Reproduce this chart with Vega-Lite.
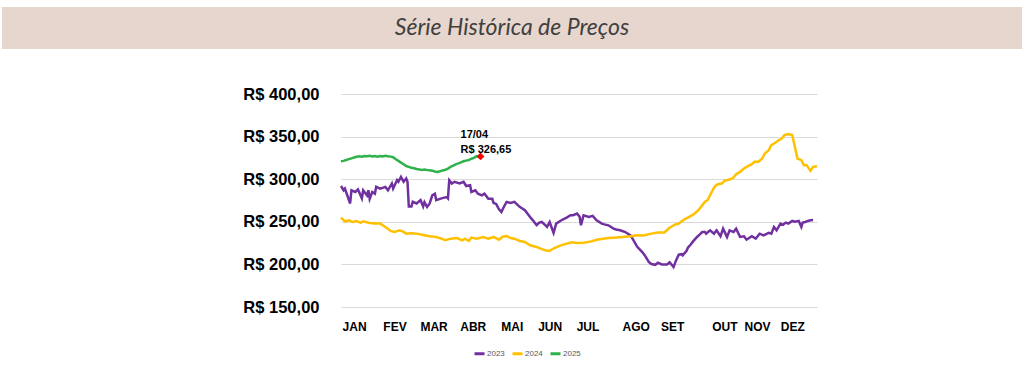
{
  "$schema": "https://vega.github.io/schema/vega-lite/v6.json",
  "padding": {"left": 2, "top": 7, "right": 2, "bottom": 0},
  "background": "#ffffff",
  "config": {"view": {"stroke": null}},
  "spacing": 45,
  "bounds": "flush",
  "datasets": {
    "destaque": [{"dia": 107, "preco": 326.65, "rotulo": ["17/04", "R$ 326,65"]}],
    "precos": [
      {"ano":"2023","dia":0,"preco":292},{"ano":"2023","dia":2,"preco":287},{"ano":"2023","dia":3,"preco":289},{"ano":"2023","dia":7,"preco":271.5},{"ano":"2023","dia":8,"preco":287},{"ano":"2023","dia":11,"preco":285},{"ano":"2023","dia":13,"preco":288},{"ano":"2023","dia":16,"preco":277.5},{"ano":"2023","dia":17,"preco":287},{"ano":"2023","dia":20,"preco":281},{"ano":"2023","dia":21,"preco":287},{"ano":"2023","dia":22,"preco":277},{"ano":"2023","dia":24,"preco":285},{"ano":"2023","dia":26,"preco":283},{"ano":"2023","dia":27,"preco":291},{"ano":"2023","dia":30,"preco":289},{"ano":"2023","dia":34,"preco":291},{"ano":"2023","dia":36,"preco":287},{"ano":"2023","dia":39,"preco":295},{"ano":"2023","dia":40,"preco":289},{"ano":"2023","dia":43,"preco":299},{"ano":"2023","dia":44,"preco":297},{"ano":"2023","dia":46,"preco":302.8},{"ano":"2023","dia":48,"preco":297},{"ano":"2023","dia":50,"preco":300.8},{"ano":"2023","dia":51,"preco":297},{"ano":"2023","dia":52,"preco":268},{"ano":"2023","dia":54,"preco":268},{"ano":"2023","dia":55,"preco":273.5},{"ano":"2023","dia":58,"preco":271.5},{"ano":"2023","dia":61,"preco":275.5},{"ano":"2023","dia":63,"preco":268},{"ano":"2023","dia":64,"preco":273},{"ano":"2023","dia":66,"preco":267.5},{"ano":"2023","dia":68,"preco":271.5},{"ano":"2023","dia":70,"preco":281},{"ano":"2023","dia":72,"preco":283},{"ano":"2023","dia":73,"preco":275.5},{"ano":"2023","dia":77,"preco":277.5},{"ano":"2023","dia":81,"preco":279},{"ano":"2023","dia":82,"preco":277.5},{"ano":"2023","dia":83,"preco":298.8},{"ano":"2023","dia":85,"preco":295},{"ano":"2023","dia":87,"preco":297},{"ano":"2023","dia":91,"preco":295},{"ano":"2023","dia":94,"preco":297},{"ano":"2023","dia":96,"preco":292},{"ano":"2023","dia":99,"preco":293},{"ano":"2023","dia":100,"preco":285},{"ano":"2023","dia":103,"preco":287},{"ano":"2023","dia":105,"preco":283},{"ano":"2023","dia":108,"preco":281},{"ano":"2023","dia":110,"preco":283},{"ano":"2023","dia":113,"preco":277},{"ano":"2023","dia":116,"preco":277},{"ano":"2023","dia":117,"preco":272},{"ano":"2023","dia":119,"preco":271},{"ano":"2023","dia":121,"preco":265},{"ano":"2023","dia":123,"preco":261.6},{"ano":"2023","dia":125,"preco":268},{"ano":"2023","dia":127,"preco":273.4},{"ano":"2023","dia":130,"preco":272},{"ano":"2023","dia":133,"preco":273.4},{"ano":"2023","dia":137,"preco":267.5},{"ano":"2023","dia":141,"preco":263.5},{"ano":"2023","dia":145,"preco":255.7},{"ano":"2023","dia":147,"preco":252},{"ano":"2023","dia":150,"preco":246},{"ano":"2023","dia":152,"preco":249},{"ano":"2023","dia":154,"preco":249.8},{"ano":"2023","dia":156,"preco":247},{"ano":"2023","dia":158,"preco":244},{"ano":"2023","dia":160,"preco":249.8},{"ano":"2023","dia":163,"preco":237},{"ano":"2023","dia":165,"preco":247.9},{"ano":"2023","dia":169,"preco":251.8},{"ano":"2023","dia":173,"preco":255},{"ano":"2023","dia":176,"preco":257.7},{"ano":"2023","dia":178,"preco":257.7},{"ano":"2023","dia":181,"preco":259.6},{"ano":"2023","dia":183,"preco":256},{"ano":"2023","dia":184,"preco":245.9},{"ano":"2023","dia":186,"preco":257.7},{"ano":"2023","dia":190,"preco":255.7},{"ano":"2023","dia":193,"preco":257},{"ano":"2023","dia":196,"preco":251.8},{"ano":"2023","dia":200,"preco":247.9},{"ano":"2023","dia":202,"preco":247},{"ano":"2023","dia":205,"preco":245.9},{"ano":"2023","dia":209,"preco":242},{"ano":"2023","dia":211,"preco":241},{"ano":"2023","dia":214,"preco":240},{"ano":"2023","dia":218,"preco":238},{"ano":"2023","dia":222,"preco":234.1},{"ano":"2023","dia":224,"preco":229},{"ano":"2023","dia":227,"preco":221},{"ano":"2023","dia":231,"preco":214.5},{"ano":"2023","dia":233,"preco":210.6},{"ano":"2023","dia":236,"preco":203},{"ano":"2023","dia":238,"preco":200.5},{"ano":"2023","dia":241,"preco":199.5},{"ano":"2023","dia":243,"preco":202},{"ano":"2023","dia":246,"preco":200},{"ano":"2023","dia":250,"preco":200},{"ano":"2023","dia":252,"preco":202.5},{"ano":"2023","dia":255,"preco":197},{"ano":"2023","dia":257,"preco":205},{"ano":"2023","dia":259,"preco":211.5},{"ano":"2023","dia":261,"preco":212},{"ano":"2023","dia":262,"preco":210.6},{"ano":"2023","dia":265,"preco":216},{"ano":"2023","dia":266,"preco":219.5},{"ano":"2023","dia":268,"preco":223},{"ano":"2023","dia":270,"preco":227},{"ano":"2023","dia":273,"preco":232.2},{"ano":"2023","dia":275,"preco":235},{"ano":"2023","dia":277,"preco":238},{"ano":"2023","dia":279,"preco":238},{"ano":"2023","dia":280,"preco":236.1},{"ano":"2023","dia":283,"preco":240},{"ano":"2023","dia":286,"preco":236.1},{"ano":"2023","dia":288,"preco":240},{"ano":"2023","dia":291,"preco":233},{"ano":"2023","dia":293,"preco":242},{"ano":"2023","dia":296,"preco":232.2},{"ano":"2023","dia":298,"preco":240},{"ano":"2023","dia":301,"preco":238},{"ano":"2023","dia":303,"preco":242},{"ano":"2023","dia":306,"preco":232.2},{"ano":"2023","dia":309,"preco":233},{"ano":"2023","dia":311,"preco":229},{"ano":"2023","dia":315,"preco":233},{"ano":"2023","dia":318,"preco":230.2},{"ano":"2023","dia":321,"preco":236},{"ano":"2023","dia":324,"preco":234},{"ano":"2023","dia":328,"preco":237},{"ano":"2023","dia":330,"preco":236.1},{"ano":"2023","dia":332,"preco":244},{"ano":"2023","dia":334,"preco":240},{"ano":"2023","dia":337,"preco":247.9},{"ano":"2023","dia":339,"preco":246.5},{"ano":"2023","dia":341,"preco":249},{"ano":"2023","dia":343,"preco":248},{"ano":"2023","dia":346,"preco":251},{"ano":"2023","dia":348,"preco":250},{"ano":"2023","dia":351,"preco":251},{"ano":"2023","dia":353,"preco":244},{"ano":"2023","dia":354,"preco":249},{"ano":"2023","dia":356,"preco":249.8},{"ano":"2023","dia":358,"preco":251},{"ano":"2023","dia":360,"preco":251.8},{"ano":"2023","dia":362,"preco":252},
      {"ano":"2024","dia":0,"preco":254.9},{"ano":"2024","dia":3,"preco":250.5},{"ano":"2024","dia":6,"preco":251.8},{"ano":"2024","dia":9,"preco":249.9},{"ano":"2024","dia":12,"preco":251},{"ano":"2024","dia":15,"preco":248.7},{"ano":"2024","dia":17,"preco":250.6},{"ano":"2024","dia":22,"preco":248.7},{"ano":"2024","dia":27,"preco":247.9},{"ano":"2024","dia":30,"preco":247.9},{"ano":"2024","dia":34,"preco":244},{"ano":"2024","dia":38,"preco":239.3},{"ano":"2024","dia":41,"preco":238.1},{"ano":"2024","dia":45,"preco":240},{"ano":"2024","dia":48,"preco":238.1},{"ano":"2024","dia":50,"preco":236.1},{"ano":"2024","dia":54,"preco":236.5},{"ano":"2024","dia":58,"preco":236.1},{"ano":"2024","dia":64,"preco":234.2},{"ano":"2024","dia":68,"preco":233},{"ano":"2024","dia":73,"preco":232.2},{"ano":"2024","dia":77,"preco":230.2},{"ano":"2024","dia":80,"preco":228.3},{"ano":"2024","dia":84,"preco":230.2},{"ano":"2024","dia":89,"preco":231},{"ano":"2024","dia":93,"preco":228.3},{"ano":"2024","dia":95,"preco":230.2},{"ano":"2024","dia":98,"preco":227.5},{"ano":"2024","dia":100,"preco":231.4},{"ano":"2024","dia":104,"preco":230.2},{"ano":"2024","dia":109,"preco":232.2},{"ano":"2024","dia":113,"preco":230.2},{"ano":"2024","dia":117,"preco":232.2},{"ano":"2024","dia":121,"preco":229},{"ano":"2024","dia":124,"preco":232.5},{"ano":"2024","dia":127,"preco":233.4},{"ano":"2024","dia":130,"preco":231},{"ano":"2024","dia":133,"preco":230.2},{"ano":"2024","dia":137,"preco":227.5},{"ano":"2024","dia":141,"preco":226.3},{"ano":"2024","dia":145,"preco":222.4},{"ano":"2024","dia":150,"preco":220.5},{"ano":"2024","dia":154,"preco":218},{"ano":"2024","dia":158,"preco":216},{"ano":"2024","dia":160,"preco":216},{"ano":"2024","dia":164,"preco":219.5},{"ano":"2024","dia":168,"preco":222},{"ano":"2024","dia":173,"preco":224.4},{"ano":"2024","dia":177,"preco":226},{"ano":"2024","dia":181,"preco":225.1},{"ano":"2024","dia":186,"preco":225.5},{"ano":"2024","dia":192,"preco":227},{"ano":"2024","dia":196,"preco":229},{"ano":"2024","dia":201,"preco":230.2},{"ano":"2024","dia":205,"preco":231},{"ano":"2024","dia":209,"preco":231.4},{"ano":"2024","dia":216,"preco":232.2},{"ano":"2024","dia":222,"preco":233},{"ano":"2024","dia":227,"preco":234.2},{"ano":"2024","dia":232,"preco":234},{"ano":"2024","dia":238,"preco":236.1},{"ano":"2024","dia":243,"preco":237.5},{"ano":"2024","dia":248,"preco":237.5},{"ano":"2024","dia":252,"preco":243},{"ano":"2024","dia":256,"preco":246.5},{"ano":"2024","dia":259,"preco":247.8},{"ano":"2024","dia":261,"preco":250.5},{"ano":"2024","dia":264,"preco":253.5},{"ano":"2024","dia":266,"preco":255},{"ano":"2024","dia":269,"preco":257.6},{"ano":"2024","dia":271,"preco":259.5},{"ano":"2024","dia":274,"preco":263.5},{"ano":"2024","dia":277,"preco":269.4},{"ano":"2024","dia":279,"preco":273.3},{"ano":"2024","dia":281,"preco":275.3},{"ano":"2024","dia":283,"preco":281.2},{"ano":"2024","dia":285,"preco":287.1},{"ano":"2024","dia":287,"preco":292.1},{"ano":"2024","dia":289,"preco":294.1},{"ano":"2024","dia":292,"preco":294.9},{"ano":"2024","dia":294,"preco":298},{"ano":"2024","dia":298,"preco":299.6},{"ano":"2024","dia":301,"preco":302},{"ano":"2024","dia":303,"preco":305.9},{"ano":"2024","dia":306,"preco":308.6},{"ano":"2024","dia":309,"preco":312.5},{"ano":"2024","dia":311,"preco":314.5},{"ano":"2024","dia":315,"preco":317.6},{"ano":"2024","dia":317,"preco":320.4},{"ano":"2024","dia":320,"preco":320.4},{"ano":"2024","dia":323,"preco":324.3},{"ano":"2024","dia":325,"preco":330.2},{"ano":"2024","dia":328,"preco":334.1},{"ano":"2024","dia":330,"preco":340},{"ano":"2024","dia":333,"preco":342.7},{"ano":"2024","dia":335,"preco":345.1},{"ano":"2024","dia":338,"preco":347.8},{"ano":"2024","dia":340,"preco":351.8},{"ano":"2024","dia":343,"preco":352.9},{"ano":"2024","dia":346,"preco":351.8},{"ano":"2024","dia":348,"preco":338},{"ano":"2024","dia":350,"preco":324.3},{"ano":"2024","dia":353,"preco":322.3},{"ano":"2024","dia":355,"preco":316.5},{"ano":"2024","dia":357,"preco":316.5},{"ano":"2024","dia":360,"preco":309.8},{"ano":"2024","dia":362,"preco":314.5},{"ano":"2024","dia":365,"preco":315.3},
      {"ano":"2025","dia":0,"preco":321},{"ano":"2025","dia":2,"preco":321.5},{"ano":"2025","dia":4,"preco":322.5},{"ano":"2025","dia":6,"preco":323.5},{"ano":"2025","dia":8,"preco":324.5},{"ano":"2025","dia":10,"preco":325.5},{"ano":"2025","dia":12,"preco":326.3},{"ano":"2025","dia":14,"preco":326.8},{"ano":"2025","dia":16,"preco":326.3},{"ano":"2025","dia":18,"preco":327.3},{"ano":"2025","dia":20,"preco":327},{"ano":"2025","dia":22,"preco":327.6},{"ano":"2025","dia":24,"preco":326.8},{"ano":"2025","dia":26,"preco":327.2},{"ano":"2025","dia":28,"preco":326.5},{"ano":"2025","dia":30,"preco":327.3},{"ano":"2025","dia":32,"preco":326.8},{"ano":"2025","dia":34,"preco":327.5},{"ano":"2025","dia":36,"preco":327},{"ano":"2025","dia":38,"preco":326.5},{"ano":"2025","dia":40,"preco":325.8},{"ano":"2025","dia":42,"preco":323.5},{"ano":"2025","dia":44,"preco":321.5},{"ano":"2025","dia":46,"preco":319.5},{"ano":"2025","dia":48,"preco":317.5},{"ano":"2025","dia":50,"preco":315.5},{"ano":"2025","dia":52,"preco":314.5},{"ano":"2025","dia":54,"preco":313.5},{"ano":"2025","dia":56,"preco":312.8},{"ano":"2025","dia":58,"preco":312},{"ano":"2025","dia":60,"preco":311.5},{"ano":"2025","dia":62,"preco":310.8},{"ano":"2025","dia":64,"preco":311.3},{"ano":"2025","dia":66,"preco":310.8},{"ano":"2025","dia":68,"preco":310.5},{"ano":"2025","dia":70,"preco":310},{"ano":"2025","dia":72,"preco":309},{"ano":"2025","dia":74,"preco":308.6},{"ano":"2025","dia":76,"preco":309.3},{"ano":"2025","dia":78,"preco":310.3},{"ano":"2025","dia":80,"preco":311},{"ano":"2025","dia":82,"preco":312.5},{"ano":"2025","dia":84,"preco":314.5},{"ano":"2025","dia":86,"preco":316},{"ano":"2025","dia":88,"preco":317.5},{"ano":"2025","dia":90,"preco":318.5},{"ano":"2025","dia":92,"preco":319.8},{"ano":"2025","dia":94,"preco":321},{"ano":"2025","dia":96,"preco":321.8},{"ano":"2025","dia":98,"preco":322.5},{"ano":"2025","dia":100,"preco":324},{"ano":"2025","dia":102,"preco":325},{"ano":"2025","dia":104,"preco":327},{"ano":"2025","dia":106,"preco":326.3},{"ano":"2025","dia":107,"preco":326.65}
    ]
  },
  "vconcat": [
    {
      "width": 1020,
      "height": 42,
      "view": {"fill": "#e7d6ce", "stroke": null},
      "data": {"values": [{"titulo": "Série Histórica de Preços"}]},
      "mark": {"type": "text", "font": "Lato", "fontStyle": "italic", "fontSize": 23, "color": "#404040", "align": "center", "baseline": "middle"},
      "encoding": {"text": {"field": "titulo", "type": "nominal"}}
    },
    {
      "spacing": 0,
      "bounds": "flush",
      "hconcat": [
        {
          "width": 339,
          "height": 213,
          "data": {"values": []},
          "mark": "point",
          "encoding": {}
        },
        {
          "width": 476,
          "height": 213,
          "encoding": {
            "x": {
              "field": "dia",
              "type": "quantitative",
              "scale": {"domain": [0, 365], "nice": false, "zero": false},
              "axis": {
                "title": null,
                "values": [10, 41, 71, 101, 131, 160, 189, 226, 254, 294, 319, 346],
                "labelExpr": "['JAN','FEV','MAR','ABR','MAI','JUN','JUL','AGO','SET','OUT','NOV','DEZ'][indexof([10,41,71,101,131,160,189,226,254,294,319,346], datum.value)]",
                "domain": false,
                "ticks": false,
                "grid": false,
                "labelFont": "Liberation Sans",
                "labelFontWeight": "bold",
                "labelFontSize": 12,
                "labelColor": "#000000",
                "labelPadding": 14,
                "labelFlush": false,
                "labelOverlap": false
              }
            },
            "y": {
              "field": "preco",
              "type": "quantitative",
              "scale": {"domain": [150, 400], "nice": false, "zero": false},
              "axis": {
                "title": null,
                "values": [150, 200, 250, 300, 350, 400],
                "labelExpr": "'R$ ' + replace(format(datum.value, '.2f'), '.', ',')",
                "domain": false,
                "ticks": false,
                "grid": true,
                "gridColor": "#d9d9d9",
                "gridWidth": 1,
                "labelFont": "Liberation Sans",
                "labelFontWeight": "bold",
                "labelFontSize": 16.5,
                "labelColor": "#000000",
                "labelPadding": 22
              }
            }
          },
          "layer": [
            {
              "data": {"name": "precos"},
              "mark": {"type": "line", "strokeWidth": 2.5},
              "encoding": {
                "color": {
                  "field": "ano",
                  "type": "nominal",
                  "scale": {"domain": ["2023", "2024", "2025"], "range": ["#7030a0", "#ffc000", "#2fb24c"]},
                  "legend": {
                    "title": null,
                    "orient": "none",
                    "legendX": 471,
                    "legendY": 340,
                    "direction": "horizontal",
                    "symbolType": "stroke",
                    "symbolSize": 100,
                    "symbolStrokeWidth": 3,
                    "labelFontSize": 8,
                    "labelFont": "Liberation Sans",
                    "labelColor": "#595959",
                    "labelOffset": 1,
                    "columnPadding": 1
                  }
                }
              }
            },
            {
              "data": {"name": "destaque"},
              "mark": {"type": "point", "shape": "diamond", "filled": true, "size": 60, "color": "#ff0000", "opacity": 1}
            },
            {
              "data": {"name": "destaque"},
              "mark": {"type": "text", "align": "left", "baseline": "bottom", "dx": -20, "dy": -16, "lineHeight": 15, "font": "Liberation Sans", "fontWeight": "bold", "fontSize": 11, "color": "#000000"},
              "encoding": {"text": {"field": "rotulo"}}
            }
          ]
        }
      ]
    }
  ]
}
